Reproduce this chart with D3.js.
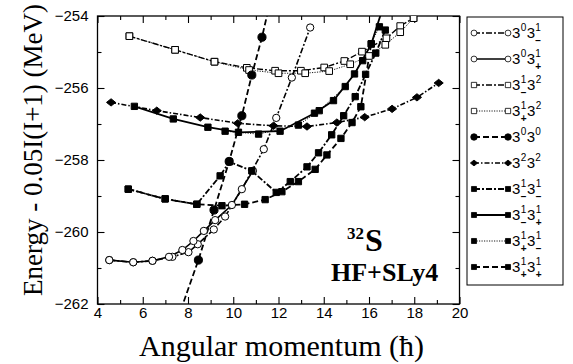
<!DOCTYPE html>
<html>
<head>
<meta charset="utf-8">
<script src="https://cdn.jsdelivr.net/npm/d3@7"></script>
<style>
  body { margin: 0; background: #fff; }
  svg { display: block; }
</style>
</head>
<body>
<svg id="chart" width="573" height="364"></svg>
<script>
// Yrast-like bands of 32S, HF+SLy4: [spin (hbar), E - 0.05 I(I+1) (MeV)]
const c30_31m = [[4.52,-260.78],[5.58,-260.84],[6.43,-260.80],[7.31,-260.69],[8.02,-260.56],[8.43,-260.34],[9.14,-259.93],[9.64,-259.57],[10.38,-258.81],[11.35,-257.70],[11.90,-256.83],[12.59,-255.71],[13.40,-254.32]];
const c30_31p = [[4.52,-260.78],[5.58,-260.84],[6.43,-260.80],[7.16,-260.69],[7.75,-260.50],[8.24,-260.25],[8.70,-259.97],[9.20,-259.67],[9.94,-259.25],[10.87,-258.30]];
const c31m_32 = [[5.41,-254.56],[7.43,-254.94],[9.17,-255.27],[10.60,-255.44],[11.85,-255.52],[12.99,-255.52],[14.02,-255.43],[14.91,-255.25],[15.69,-254.99],[16.77,-254.62],[17.38,-254.28],[17.97,-254.06]];
const c31p_32 = [[5.41,-254.56],[7.43,-254.94],[9.17,-255.27],[10.70,-255.50],[12.00,-255.59],[13.18,-255.59],[14.24,-255.53],[15.17,-255.34],[16.00,-255.11],[16.72,-254.80],[17.38,-254.45],[17.97,-254.06]];
const c30_30 = [[7.55,-262.40],[8.46,-260.78],[9.15,-259.39],[9.82,-258.04],[10.38,-256.77],[10.82,-255.64],[11.27,-254.59],[11.65,-253.55]];
const c32_32 = [[4.60,-256.40],[6.62,-256.63],[8.54,-256.82],[10.20,-256.98],[11.78,-257.05],[13.26,-257.07],[14.58,-256.96],[15.81,-256.81],[17.02,-256.58],[18.12,-256.26],[19.08,-255.86]];
const c31m_31m = [[5.36,-258.81],[6.99,-259.08],[8.39,-259.23],[9.42,-258.44],[9.83,-258.05],[10.82,-258.30],[11.90,-258.90],[12.52,-258.60],[13.26,-258.19],[13.77,-257.80],[14.35,-257.30],[14.88,-256.77],[15.39,-256.24],[15.85,-255.62],[16.30,-255.03],[16.72,-254.39]];
const c31m_31p = [[5.63,-256.51],[7.35,-256.86],[8.88,-257.09],[10.23,-257.23],[12.07,-257.20],[13.59,-256.70],[14.43,-256.35],[15.36,-255.61],[16.10,-254.78],[16.75,-253.50]];
const c31p_31m = [[9.64,-257.20],[11.12,-257.28],[12.88,-257.03],[13.80,-256.63],[14.95,-255.96],[15.72,-255.24],[16.46,-254.30]];
const c31p_31p = [[5.36,-258.81],[6.99,-259.08],[8.39,-259.23],[9.50,-259.27],[10.50,-259.23],[11.41,-259.10],[12.15,-258.88],[12.88,-258.60],[13.62,-258.26],[14.14,-257.86],[14.76,-257.40],[15.25,-256.96],[15.64,-256.52],[16.10,-254.77]];

// legend labels: each part is a base digit with an optional superscript and subscript
const labels = [
  [{b:"3",sup:"0"},{b:"3",sup:"1",sub:"\u2212"}],
  [{b:"3",sup:"0"},{b:"3",sup:"1",sub:"+"}],
  [{b:"3",sup:"1",sub:"\u2212"},{b:"3",sup:"2"}],
  [{b:"3",sup:"1",sub:"+"},{b:"3",sup:"2"}],
  [{b:"3",sup:"0"},{b:"3",sup:"0"}],
  [{b:"3",sup:"2"},{b:"3",sup:"2"}],
  [{b:"3",sup:"1",sub:"\u2212"},{b:"3",sup:"1",sub:"\u2212"}],
  [{b:"3",sup:"1",sub:"\u2212"},{b:"3",sup:"1",sub:"+"}],
  [{b:"3",sup:"1",sub:"+"},{b:"3",sup:"1",sub:"\u2212"}],
  [{b:"3",sup:"1",sub:"+"},{b:"3",sup:"1",sub:"+"}]
];

const xMajor = [4,6,8,10,12,14,16,18,20];
const xMinor = [5,7,9,11,13,15,17,19];
const yMajor = [-262,-260,-258,-256,-254];
const yMinor = [-261,-259,-257,-255];

// line styles
const DASHDOT = "6,2,2,2", DASHED = "6,3", DOTTED = "1.2,1.3", SOLID = null, DASHDOT2 = "5,2,1.5,2";

const series = [
  {data:c30_31m, mark:"circle", fill:false, dash:DASHDOT, w:1.6},
  {data:c30_31p, mark:"circle", fill:false, dash:SOLID,   w:1.6},
  {data:c31m_32, mark:"square", fill:false, dash:DASHDOT, w:1.4},
  {data:c31p_32, mark:"square", fill:false, dash:DOTTED,  w:0.9},
  {data:c30_30,  mark:"circle", fill:true,  dash:DASHED,  w:1.8},
  {data:c32_32,  mark:"diamond",fill:true,  dash:DASHDOT2,w:1.6},
  {data:c31m_31m,mark:"square", fill:true,  dash:DASHDOT, w:1.8},
  {data:c31m_31p,mark:"square", fill:true,  dash:SOLID,   w:1.8},
  {data:c31p_31m,mark:"square", fill:true,  dash:DOTTED,  w:0.9},
  {data:c31p_31p,mark:"square", fill:true,  dash:DASHED,  w:1.8}
];

const svg = d3.select("#chart");
const L = 97.5, R = 459.5, T = 16, B = 304;
const x = d3.scaleLinear().domain([4, 20]).range([L, R]);
const y = d3.scaleLinear().domain([-262, -254]).range([B, T]);

const tickFont = "'Liberation Sans', Arial, sans-serif";

// a flattened diamond, a little wider than tall
const wideDiamond = {
  draw(ctx, size) {
    const h = Math.sqrt(size) * 0.55, w = h * 1.25;
    ctx.moveTo(-w, 0); ctx.lineTo(0, -h); ctx.lineTo(w, 0); ctx.lineTo(0, h); ctx.closePath();
  }
};

function symbolPath(kind, fill) {
  if (kind === "circle") return d3.symbol(d3.symbolCircle, fill ? 52 : 42)();
  if (kind === "square") return d3.symbol(d3.symbolSquare, fill ? 40 : 44)();
  return d3.symbol(wideDiamond, 44)();
}

// axes: ticks point into the frame on all four sides
function styleAxis(g, labels) {
  g.select(".domain").remove();
  g.selectAll(".tick line").attr("stroke", "#000").attr("stroke-width", 1.1);
  g.selectAll(".tick text").attr("fill", "#000").style("font-family", tickFont).style("font-size", "15px");
  if (!labels) g.selectAll(".tick text").remove();
}
const fmt = d => d3.format("d")(d);
svg.append("g").attr("transform", `translate(0,${B})`)
  .call(d3.axisBottom(x).tickValues(xMajor).tickSize(-7).tickPadding(3).tickFormat(fmt)).call(g => styleAxis(g, true));
svg.append("g").attr("transform", `translate(0,${B})`)
  .call(d3.axisBottom(x).tickValues(xMinor).tickSize(-4)).call(g => styleAxis(g, false));
svg.append("g").attr("transform", `translate(0,${T})`)
  .call(d3.axisTop(x).tickValues(xMajor).tickSize(-7)).call(g => styleAxis(g, false));
svg.append("g").attr("transform", `translate(0,${T})`)
  .call(d3.axisTop(x).tickValues(xMinor).tickSize(-4)).call(g => styleAxis(g, false));
svg.append("g").attr("transform", `translate(${L},0)`)
  .call(d3.axisLeft(y).tickValues(yMajor).tickSize(-7).tickPadding(9).tickFormat(fmt)).call(g => styleAxis(g, true));
svg.append("g").attr("transform", `translate(${L},0)`)
  .call(d3.axisLeft(y).tickValues(yMinor).tickSize(-4)).call(g => styleAxis(g, false));
svg.append("g").attr("transform", `translate(${R},0)`)
  .call(d3.axisRight(y).tickValues(yMajor).tickSize(-7)).call(g => styleAxis(g, false));
svg.append("g").attr("transform", `translate(${R},0)`)
  .call(d3.axisRight(y).tickValues(yMinor).tickSize(-4)).call(g => styleAxis(g, false));

// plot frame
svg.append("rect").attr("x", L).attr("y", T).attr("width", R - L).attr("height", B - T)
  .attr("fill", "none").attr("stroke", "#000").attr("stroke-width", 1.3);

svg.append("clipPath").attr("id", "plotclip")
  .append("rect").attr("x", L).attr("y", T).attr("width", R - L).attr("height", B - T);

const plot = svg.append("g").attr("clip-path", "url(#plotclip)");
const line = d3.line().x(d => x(d[0])).y(d => y(d[1]));

series.forEach(s => {
  plot.append("path").attr("d", line(s.data)).attr("fill", "none")
    .attr("stroke", "#000").attr("stroke-width", s.w)
    .attr("stroke-dasharray", s.dash);
});
series.forEach(s => {
  plot.selectAll(null).data(s.data).enter().append("path")
    .attr("d", symbolPath(s.mark, s.fill))
    .attr("transform", d => `translate(${x(d[0])},${y(d[1])})`)
    .attr("fill", s.fill ? "#000" : "#fff")
    .attr("stroke", "#000").attr("stroke-width", 1);
});

// nucleus and interaction annotation
const serif = "'Liberation Serif', 'Times New Roman', serif";
const nuc = svg.append("text").attr("x", 347).attr("y", 251)
  .style("font-family", serif).style("font-weight", "bold");
nuc.append("tspan").attr("dy", -12).style("font-size", "17px").text("32");
nuc.append("tspan").attr("dy", 12).attr("dx", 1).style("font-size", "32px").text("S");
svg.append("text").attr("x", 331).attr("y", 281).text("HF+SLy4")
  .style("font-family", serif).style("font-weight", "bold").style("font-size", "26px");

// axis titles
svg.append("text").attr("x", (L + R) / 2 + 3).attr("y", 356).attr("text-anchor", "middle")
  .style("font-family", serif).style("font-size", "30px").text("Angular momentum (\u0127)");
svg.append("text").attr("transform", "translate(42,150) rotate(-90)").attr("text-anchor", "middle")
  .style("font-family", serif).style("font-size", "27px").text("Energy - 0.05I(I+1) (MeV)");

// legend
const lg = svg.append("g");
const LX = 467, LY = 17, LW = 96, LH = 268, rowH = 26, firstRow = 33;
lg.append("rect").attr("x", LX).attr("y", LY).attr("width", LW).attr("height", LH)
  .attr("fill", "#fff").attr("stroke", "#000").attr("stroke-width", 1);
series.forEach((s, i) => {
  const yy = firstRow + i * rowH;
  const x1 = 474, x2 = 508;
  lg.append("line").attr("x1", x1).attr("x2", x2).attr("y1", yy).attr("y2", yy)
    .attr("stroke", "#000").attr("stroke-width", s.w).attr("stroke-dasharray", s.dash);
  [x1, x2].forEach(px => {
    lg.append("path").attr("d", symbolPath(s.mark, s.fill))
      .attr("transform", `translate(${px},${yy}) scale(0.8)`)
      .attr("fill", s.fill ? "#000" : "#fff").attr("stroke", "#000").attr("stroke-width", 1);
  });
  let cx = 512;
  const base = yy + 5;
  labels[i].forEach(p => {
    const t = lg.append("text").attr("x", cx).attr("y", base).text(p.b)
      .style("font-family", tickFont).style("font-size", "15px");
    cx += t.node().getComputedTextLength() + 0.3;
    let w = 0;
    if (p.sup) {
      const su = lg.append("text").attr("x", cx).attr("y", base - 7).text(p.sup)
        .style("font-family", tickFont).style("font-size", "10px");
      w = Math.max(w, su.node().getComputedTextLength());
    }
    if (p.sub) {
      const sb = lg.append("text").attr("x", cx).attr("y", base + 6).text(p.sub)
        .style("font-family", tickFont).style("font-size", "10px").style("font-weight", "bold");
      w = Math.max(w, sb.node().getComputedTextLength());
    }
    cx += w + 0.5;
  });
});
</script>
</body>
</html>
